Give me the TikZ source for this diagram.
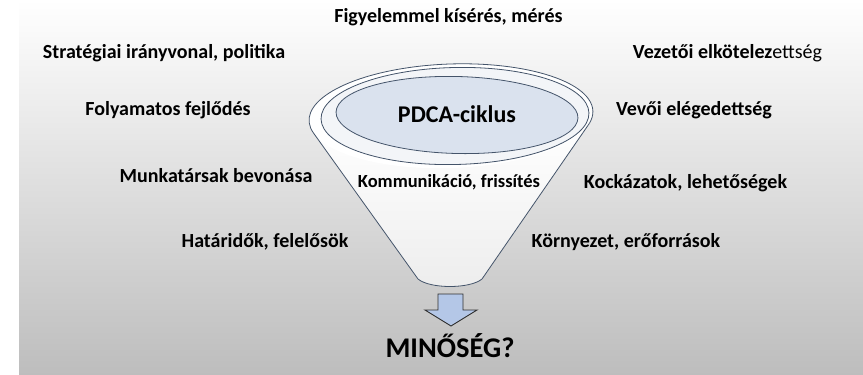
\documentclass[tikz,border=0pt]{standalone}
\usepackage{fontspec}
\setmainfont{Carlito}
\usetikzlibrary{shapes.geometric,calc}
\definecolor{bgbot}{HTML}{BDBDBD}
\definecolor{edgec}{HTML}{44546A}
\definecolor{innerc}{HTML}{DAE2EE}
\definecolor{rimc}{HTML}{F3F5F8}
\definecolor{funbot}{HTML}{EDEDED}
\definecolor{arrowc}{HTML}{B4C7E7}
\definecolor{arrowedge}{HTML}{303030}
\tikzset{
  lbl/.style={font=\bfseries\fontsize{20}{24}\selectfont, inner sep=0pt, text height=14pt, text depth=4pt, anchor=center, text=black},
  lblsmall/.style={lbl, font=\bfseries\fontsize{18.5}{22}\selectfont},
  pdca/.style={lbl, font=\bfseries\fontsize{24}{28}\selectfont, text height=17pt, text depth=5pt},
  bigl/.style={lbl, font=\bfseries\fontsize{28.5}{32}\selectfont, text height=20pt, text depth=6pt},
  funnelline/.style={draw=edgec, line width=0.8pt},
}
\begin{document}
\begin{tikzpicture}[x=1pt,y=-1pt]
\useasboundingbox (0,0) rectangle (863,375);
\shade[top color=white, bottom color=bgbot] (19,0) rectangle (863,375);

% rim end points on the (slightly tilted) outer ellipse
\begin{scope}[rotate around={2:(451,116)}]
  \coordinate (rimL) at ($(451,116)+(166.4:142 and 52)$);
  \coordinate (rimR) at ($(451,116)+(373.6:142 and 52)$);
\end{scope}
\coordinate (botR) at (482,279);
\coordinate (botL) at (418,279);

% funnel body fill
\shade[top color=white, bottom color=funbot]
  (rimL) -- (botL) .. controls (430,289) and (470,289) .. (botR) -- (rimR) -- cycle;
% outer rim ellipse (fill + top arc)
\begin{scope}[rotate around={2:(451,116)}]
  \fill[white] (451,116) ellipse[x radius=142, y radius=52];
  \draw[funnelline] (rimL) arc[start angle=166.4, end angle=373.6, x radius=142, y radius=52];
\end{scope}
% funnel sides and bottom
\draw[funnelline, line join=round] (rimL) -- (botL) .. controls (430,289) and (470,289) .. (botR) -- (rimR);
% second rim ellipse
\draw[funnelline, fill=rimc, rotate around={1.3:(455,116)}] (455,116) ellipse[x radius=134, y radius=48.5];
% inner ellipse
\node[draw=edgec, line width=0.8pt, fill=innerc, ellipse, minimum width=242pt, minimum height=77pt, inner sep=0pt, rotate=-1.4] (pdcaell) at (457,115) {};
\node[pdca] (pdca) at (457,116) {PDCA-ciklus};

% arrow
\draw[draw=arrowedge, line width=0.9pt, fill=arrowc, line join=miter]
  (438,294) -- (463,294) -- (463,310) -- (477,310) -- (451,326) -- (425,310) -- (438,310) -- cycle;

% labels
\node[lbl] (fig) at (448.5,17.5) {Figyelemmel kísérés, mérés};
\node[lbl] (str) at (164,53.5) {Stratégiai irányvonal, politika};
\node[lbl] (vez) at (727.5,53.5) {Vezetői elkötelez{\mdseries ettség}};
\node[lbl] (fol) at (168,110.5) {Folyamatos fejlődés};
\node[lbl] (vev) at (694,110.5) {Vevői elégedettség};
\node[lbl] (mun) at (216,177.5) {Munkatársak bevonása};
\node[lblsmall] (kom) at (449,182.5) {Kommunikáció, frissítés};
\node[lbl] (koc) at (685.5,183.5) {Kockázatok, lehetőségek};
\node[lbl] (hat) at (265,242.5) {Határidők, felelősök};
\node[lbl] (kor) at (626,242.5) {Környezet, erőforrások};
\node[bigl] (min) at (450,350.5) {MINŐSÉG?};
\end{tikzpicture}
\end{document}
